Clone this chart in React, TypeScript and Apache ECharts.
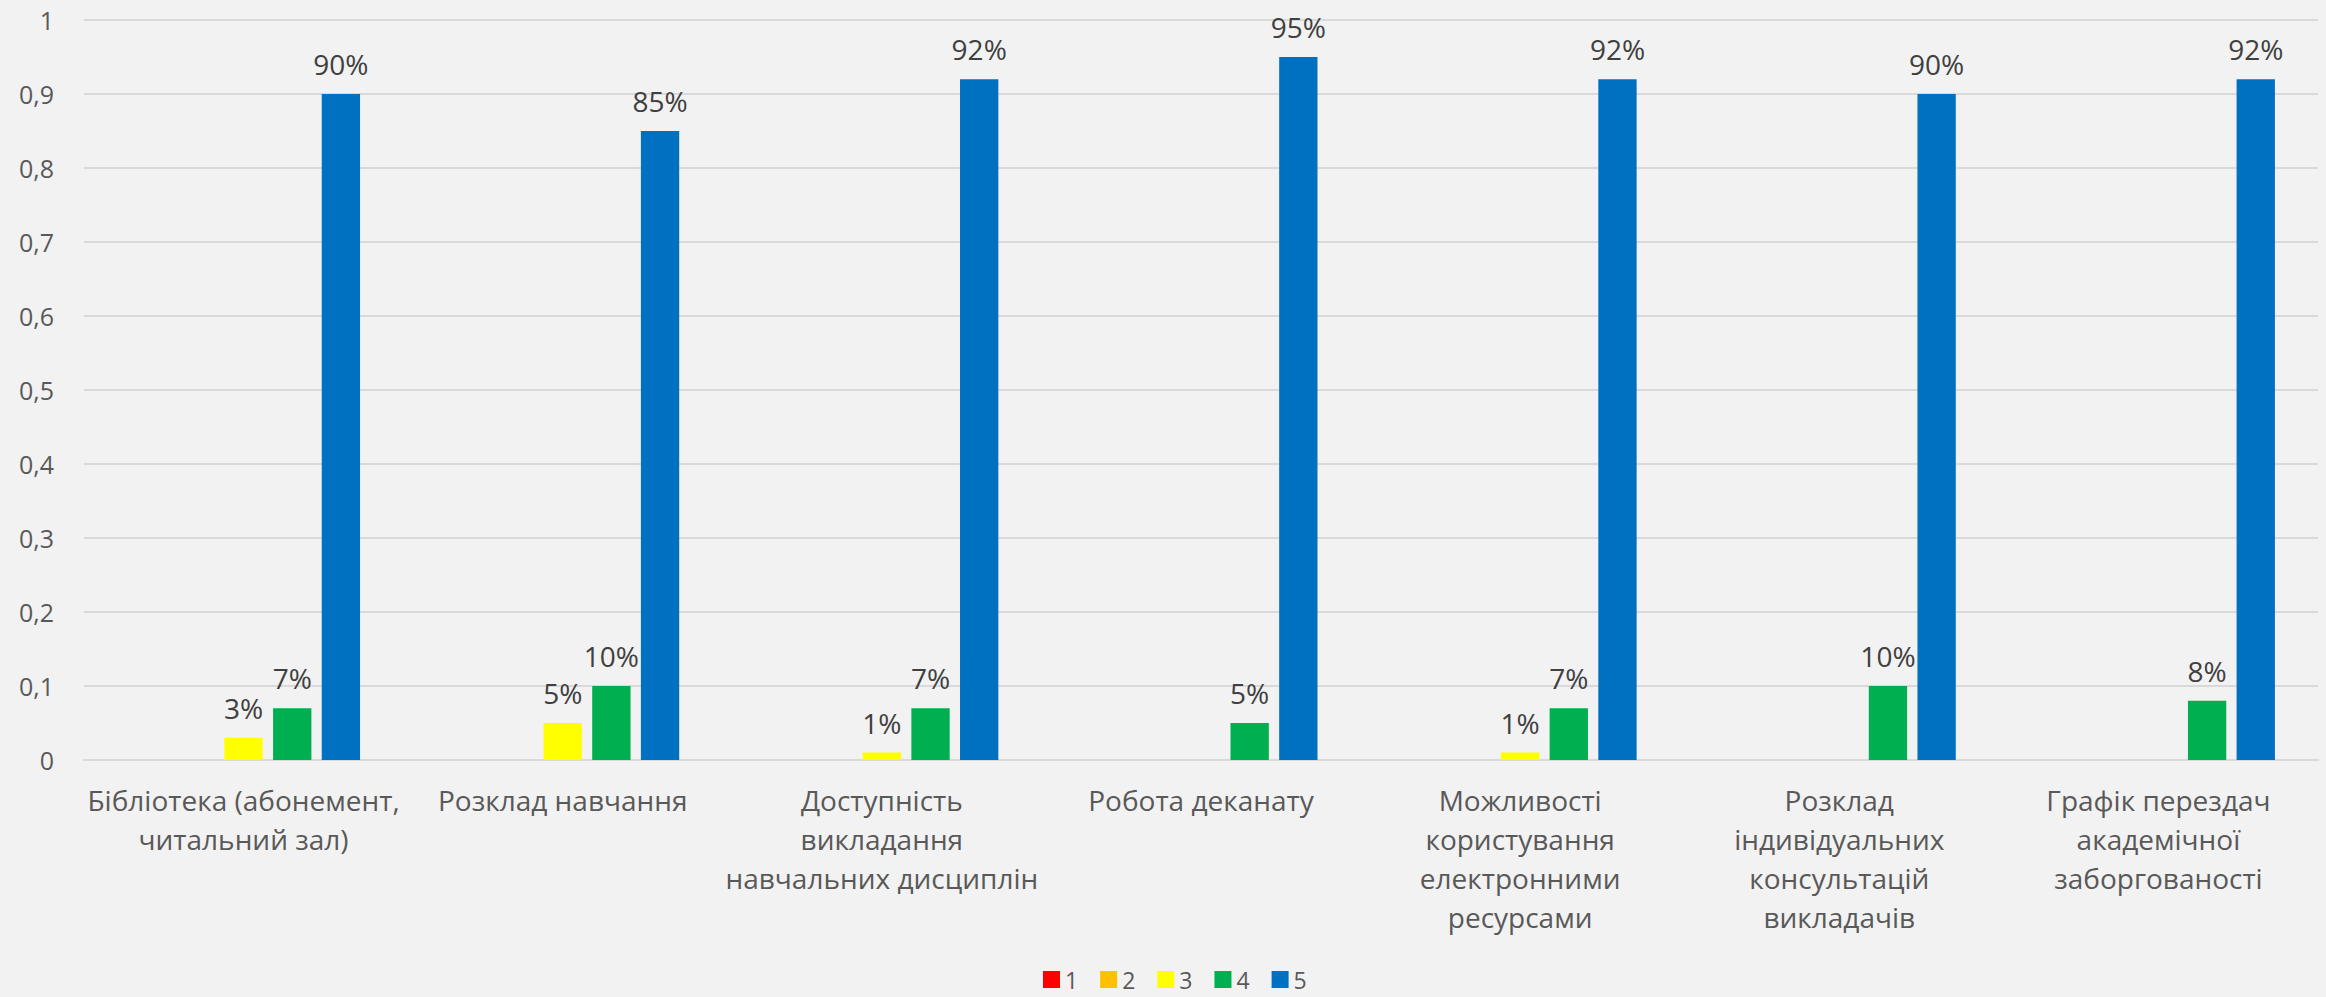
import React, { useEffect, useRef } from "react";
import * as echarts from "echarts";

const categories = [
  "Бібліотека (абонемент,\nчитальний зал)",
  "Розклад навчання",
  "Доступність\nвикладання\nнавчальних дисциплін",
  "Робота деканату",
  "Можливості\nкористування\nелектронними\nресурсами",
  "Розклад\nіндивідуальних\nконсультацій\nвикладачів",
  "Графік перездач\nакадемічної\nзаборгованості",
];

const seriesNames = ["1", "2", "3", "4", "5"];
const s1: (number | null)[] = [null, null, null, null, null, null, null];
const s2: (number | null)[] = [null, null, null, null, null, null, null];
const s3: (number | null)[] = [0.03, 0.05, 0.01, null, 0.01, null, null];
const s4: (number | null)[] = [0.07, 0.1, 0.07, 0.05, 0.07, 0.1, 0.08];
const s5: (number | null)[] = [0.9, 0.85, 0.92, 0.95, 0.92, 0.9, 0.92];
const seriesColors = ["#FF0000", "#FFC000", "#FFFF00", "#00B050", "#0070C0"];
const yTicks = [0, 0.1, 0.2, 0.3, 0.4, 0.5, 0.6, 0.7, 0.8, 0.9, 1];

const FONT = "'Open Sans', 'Noto Sans', sans-serif";

export default function App() {
  const ref = useRef<HTMLDivElement>(null);
  useEffect(() => {
    document.body.style.margin = "0";
    if (!ref.current) return;
    const chart = echarts.init(ref.current, undefined, { renderer: "svg" });
    const data = [s1, s2, s3, s4, s5];
    chart.setOption({
      animation: false,
      backgroundColor: "#F2F2F2",
      textStyle: { fontFamily: FONT },
      grid: { left: 84, right: 8, top: 20, bottom: 237, containLabel: false },
      legend: {
        data: seriesNames,
        left: 1043,
        top: 968,
        padding: 0,
        itemWidth: 17,
        itemHeight: 17,
        itemGap: 22,
        icon: "rect",
        textStyle: {
          color: "#595959",
          fontSize: 23,
          lineHeight: 23,
          fontFamily: FONT,
        },
      },
      xAxis: {
        type: "category",
        data: categories,
        axisTick: { show: false },
        axisLine: { lineStyle: { color: "#D9D9D9", width: 2 } },
        axisLabel: {
          interval: 0,
          color: "#595959",
          fontSize: 28,
          lineHeight: 39,
          margin: 20,
          fontFamily: FONT,
        },
      },
      yAxis: {
        type: "value",
        min: 0,
        max: 1,
        interval: 0.1,
        axisLine: { show: false },
        axisTick: { show: false },
        splitLine: { lineStyle: { color: "#D9D9D9", width: 2 } },
        axisLabel: {
          color: "#595959",
          fontSize: 25,
          margin: 30,
          fontFamily: FONT,
          formatter: (v: number) => {
            const t = yTicks.find((x) => Math.abs(x - v) < 1e-9);
            const val = t === undefined ? v : t;
            return String(Math.round(val * 10) / 10).replace(".", ",");
          },
        },
      },
      series: seriesNames.map((name, i) => ({
        name,
        type: "bar",
        data: data[i],
        barGap: "27%",
        barCategoryGap: "27%",
        itemStyle: { color: seriesColors[i] },
        label: {
          show: true,
          position: "top",
          distance: 16,
          color: "#404040",
          fontSize: 28,
          fontFamily: FONT,
          formatter: (p: any) =>
            p.value == null ? "" : Math.round(p.value * 100) + "%",
        },
      })),
    });
    return () => chart.dispose();
  }, []);
  return <div ref={ref} style={{ width: 2326, height: 997 }} />;
}
